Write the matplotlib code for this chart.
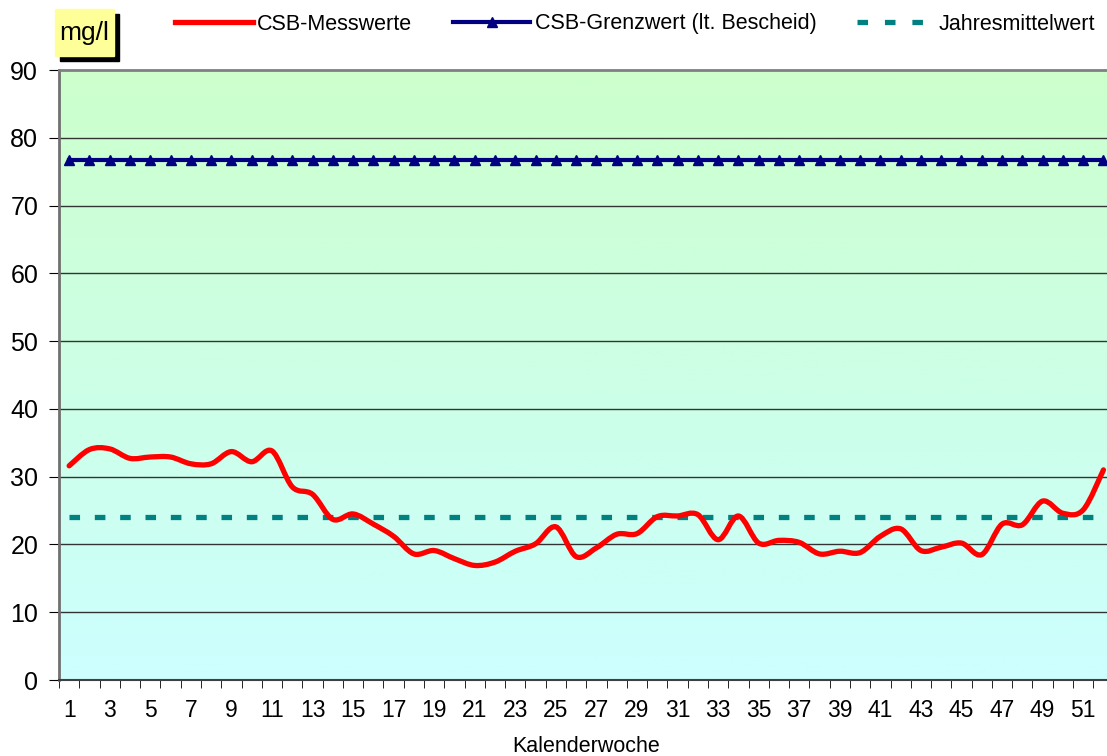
import numpy as np
import matplotlib.pyplot as plt
from matplotlib.path import Path
from matplotlib.patches import PathPatch, Rectangle
from matplotlib.lines import Line2D

plt.rcParams['font.family'] = ['Liberation Sans', 'DejaVu Sans']

weeks = np.arange(1, 53)
csb = [31.6, 34.0, 34.1, 32.7, 32.9, 32.9, 31.9, 31.9, 33.7, 32.2,
       33.8, 28.5, 27.4, 23.7, 24.5, 23.0, 21.2, 18.6, 19.1, 17.9,
       16.9, 17.4, 19.0, 20.1, 22.6, 18.2, 19.5, 21.5, 21.6, 24.1,
       24.2, 24.4, 20.7, 24.2, 20.2, 20.6, 20.3, 18.6, 19.0, 18.8,
       21.2, 22.3, 19.1, 19.6, 20.2, 18.5, 23.0, 22.9, 26.4, 24.6,
       25.1, 31.0]
grenzwert = 76.7
jahresmittel = 24.1


def smooth_path(x, y):
    # excel-like smoothed line: cubic bezier through the points
    pts = np.column_stack([x, y])
    n = len(pts)
    verts = [pts[0]]
    codes = [Path.MOVETO]
    for i in range(n - 1):
        p0 = pts[i - 1] if i > 0 else pts[i]
        p1 = pts[i]
        p2 = pts[i + 1]
        p3 = pts[i + 2] if i + 2 < n else pts[i + 1]
        c1 = p1 + (p2 - p0) / 6
        c2 = p2 - (p3 - p1) / 6
        verts += [c1, c2, p2]
        codes += [Path.CURVE4] * 3
    return Path(verts, codes)


fig = plt.figure(figsize=(11.07, 7.56), dpi=100)
W, H = 1107, 756
ax = fig.add_axes([59 / W, 76 / H, 1054.6 / W, 610 / H])

# background gradient
grad = np.linspace(0, 1, 256).reshape(-1, 1)
top = np.array([204, 255, 204]) / 255
bot = np.array([204, 255, 255]) / 255
img = bot + (top - bot) * grad[..., None]
ax.imshow(img, extent=[0, 1, 0, 1], transform=ax.transAxes, aspect='auto',
          origin='lower', zorder=0)

ax.set_xlim(0.5, 52.5)
ax.set_ylim(0, 90)

for yv in range(10, 90, 10):
    ax.axhline(yv, color='#333333', lw=1.0, zorder=1)

ax.plot(weeks, [jahresmittel] * len(weeks), color='#008080', lw=3.8,
        dashes=(2, 2.8), zorder=2)
ax.plot(weeks, [grenzwert] * len(weeks), color='#000080', lw=3.0,
        marker='^', markersize=6.5, zorder=3)
ax.add_patch(PathPatch(smooth_path(weeks, csb), fill=False, edgecolor='red',
                       lw=3.8, capstyle='round', joinstyle='round', zorder=4))

ax.set_yticks(range(0, 91, 10))
ax.set_xticks(weeks[::2])
ax.set_xticks(np.arange(0.5, 53, 1), minor=True)
ax.tick_params(axis='x', which='major', length=0, labelsize=16.5, pad=14)
ax.tick_params(axis='x', which='minor', length=6, direction='out', color='black')
ax.tick_params(axis='y', length=7, direction='out', labelsize=18, pad=8)

ax.spines['right'].set_visible(False)
ax.spines['left'].set_color('#707070')
ax.spines['left'].set_linewidth(2)
ax.spines['top'].set_color('#808080')
ax.spines['top'].set_linewidth(2)
ax.spines['bottom'].set_color('#404040')
ax.spines['bottom'].set_linewidth(1.5)

ax.set_xlabel('Kalenderwoche', fontsize=15.5, labelpad=10)

# unit box
fig.patches.append(Rectangle((60 / W, 1 - 61 / H), 59 / W, 47 / H,
                             transform=fig.transFigure, color='black', zorder=1))
fig.patches.append(Rectangle((55 / W, 1 - 56 / H), 59 / W, 47 / H,
                             transform=fig.transFigure, color='#FFFF99', zorder=2))
fig.text(84 / W, 1 - 33 / H, 'mg/l', fontsize=19, ha='center', va='center', zorder=3)

handles = [
    Line2D([], [], color='red', lw=3.8),
    Line2D([], [], color='#000080', lw=3.0, marker='^', markersize=6.5),
    Line2D([], [], color='#008080', lw=3.8, dashes=(2, 3.2)),
]
labels = ['CSB-Messwerte', 'CSB-Grenzwert (lt. Bescheid)', 'Jahresmittelwert']
fig.legend(handles, labels, loc='center left', bbox_to_anchor=(175 / W, 1 - 24 / H),
           ncol=3, frameon=False, fontsize=15.5, handlelength=3.6,
           handletextpad=0.2, columnspacing=1.9, borderpad=0, borderaxespad=0)

fig.savefig('out.png', dpi=100)
